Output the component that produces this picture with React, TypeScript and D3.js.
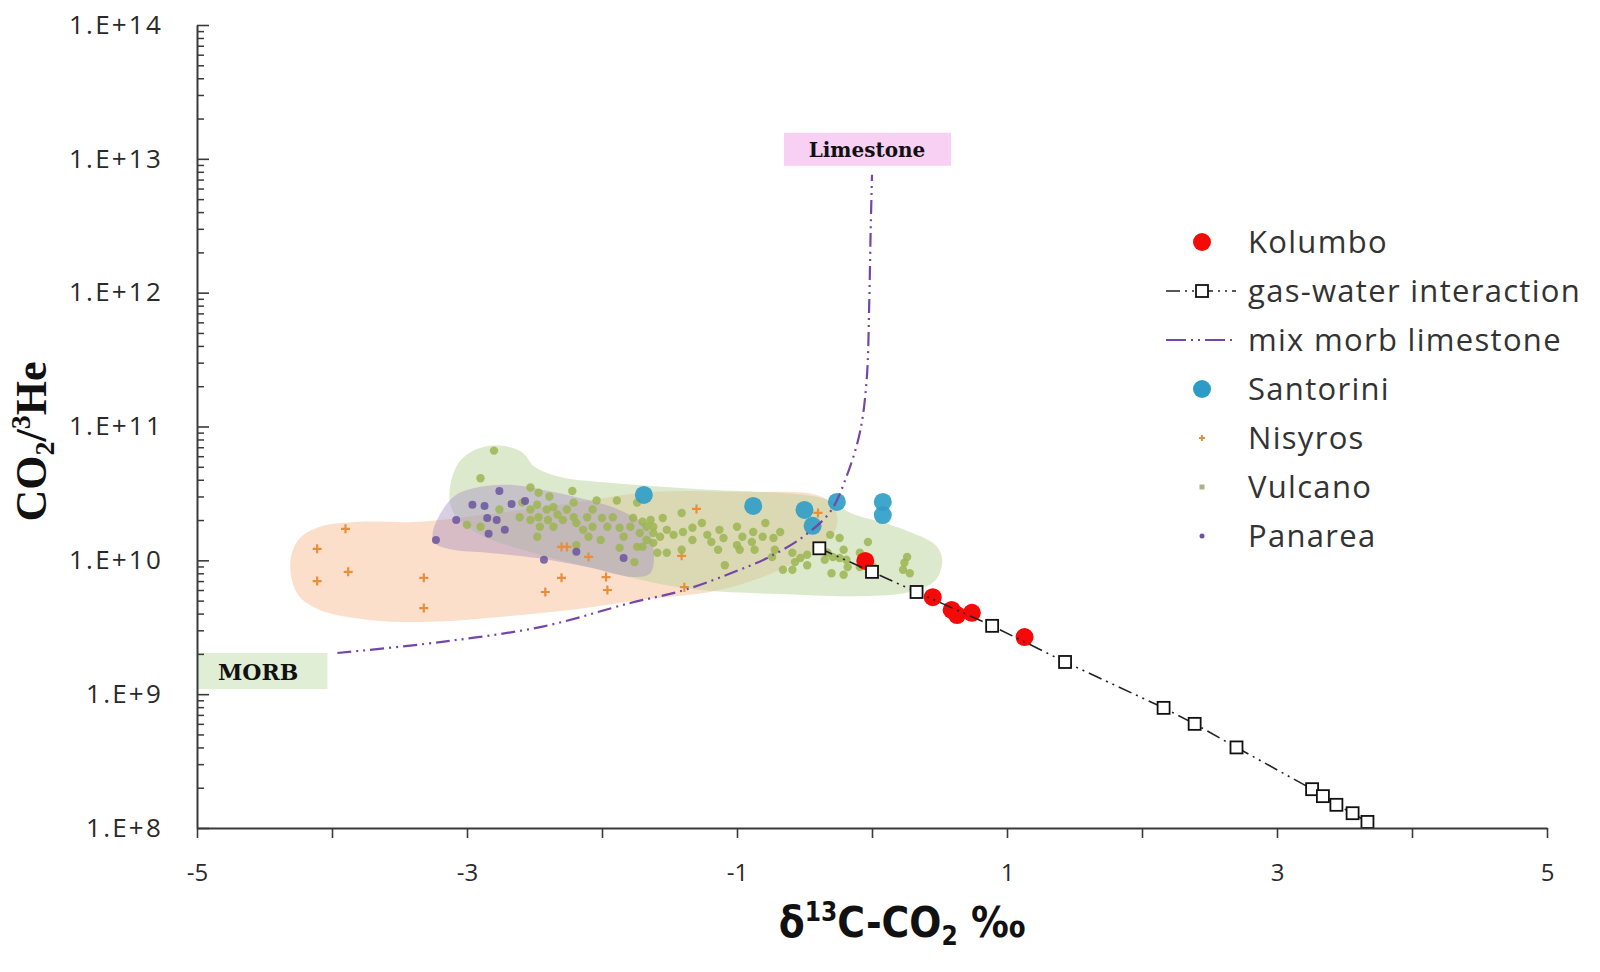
import * as d3 from 'd3'
import React from 'react'

type P = [number, number]

// delta13C (x) and CO2/3He (y)
const kolumbo: P[] = [[-0.05, 9.9e9], [0.45, 5.3e9], [0.59, 4.26e9], [0.63, 3.9e9], [0.74, 4.05e9], [1.13, 2.67e9]]

const gasWater: P[] = [
  [-0.39, 1.23e10], [0.0, 8.2e9], [0.33, 5.8e9], [0.89, 3.24e9], [1.43, 1.74e9], [2.16, 7.9e8], [2.39, 6.0e8],
  [2.70, 4.0e8], [3.26, 1.95e8], [3.34, 1.73e8], [3.44, 1.49e8], [3.56, 1.29e8], [3.67, 1.11e8],
]

const mixMorbLimestone: P[] = [
  [-3.96, 2.03e9], [-3.2, 2.45e9], [-2.44, 3.2e9], [-1.79, 4.8e9], [-1.39, 6.0e9], [-0.98, 8.5e9], [-0.76, 1.06e10],
  [-0.51, 1.5e10], [-0.31, 2.3e10], [-0.19, 4.2e10], [-0.09, 9.0e10], [-0.04, 2.2e11], [-0.02, 8.8e11],
  [-0.01, 2.9e12], [0.0, 7.6e12],
]

const santorini: P[] = [[-1.69, 3.08e10], [-0.88, 2.55e10], [-0.5, 2.38e10], [-0.44, 1.81e10], [-0.26, 2.73e10], [0.08, 2.73e10], [0.08, 2.18e10]]

const nisyros: P[] = [
  [-3.9, 1.72e10], [-4.11, 1.22e10], [-3.88, 8.2e9], [-4.11, 7.0e9], [-3.32, 7.4e9], [-3.32, 4.4e9], [-2.42, 5.8e9],
  [-2.3, 7.4e9], [-1.97, 7.5e9], [-1.96, 6.0e9], [-2.1, 1.06e10], [-2.3, 1.26e10], [-2.26, 1.26e10], [-1.3, 2.42e10],
  [-1.41, 1.08e10], [-1.39, 6.3e9], [-0.4, 2.26e10],
]

const vulcano: P[] = [
  [-2.8, 6.6e10], [-2.9, 4.1e10], [-2.53, 3.5e10], [-2.22, 3.3e10], [-2.76, 2.4e10], [-3.0, 1.84e10], [-2.9, 1.78e10],
  [-2.47, 3.2e10], [-2.39, 3.0e10], [-2.59, 2.7e10], [-2.53, 2.4e10], [-2.48, 2.6e10], [-2.61, 2.1e10], [-2.53, 2.0e10],
  [-2.47, 2.1e10], [-2.41, 2.4e10], [-2.36, 2.5e10], [-2.33, 2.2e10], [-2.4, 2.0e10], [-2.46, 1.78e10], [-2.48, 1.5e10],
  [-2.36, 1.78e10], [-2.29, 2.0e10], [-2.26, 2.4e10], [-2.21, 2.7e10], [-2.21, 2.1e10], [-2.19, 1.9e10], [-2.14, 1.69e10],
  [-2.11, 2.1e10], [-2.07, 2.4e10], [-2.04, 2.8e10], [-2.0, 2.07e10], [-2.07, 1.78e10], [-2.1, 1.5e10], [-2.01, 1.42e10],
  [-1.96, 1.78e10], [-1.92, 2.1e10], [-1.89, 2.8e10], [-1.87, 1.75e10], [-1.84, 1.5e10], [-1.87, 1.24e10], [-1.79, 1.78e10],
  [-1.77, 2.07e10], [-1.74, 2.7e10], [-1.72, 1.6e10], [-1.67, 1.78e10], [-1.62, 1.6e10], [-1.62, 1.35e10], [-1.64, 2.0e10],
  [-1.7, 1.26e10], [-1.74, 1.26e10], [-1.76, 9.7e9], [-2.19, 1.3e10], [-1.59, 1.14e10],
  [-1.41, 2.26e10], [-1.55, 2.07e10], [-1.7, 1.94e10], [-1.62, 1.78e10], [-1.52, 1.69e10], [-1.57, 1.5e10], [-1.47, 1.55e10],
  [-1.67, 1.42e10], [-1.4, 1.63e10], [-1.33, 1.75e10], [-1.26, 1.9e10], [-1.33, 1.42e10], [-1.22, 1.55e10], [-1.19, 1.37e10],
  [-1.13, 1.69e10], [-1.1, 1.47e10], [-1.14, 1.2e10], [-1.0, 1.78e10], [-1.0, 1.3e10], [-0.96, 1.5e10], [-0.88, 1.63e10],
  [-0.89, 1.37e10], [-0.79, 1.9e10], [-0.81, 1.5e10], [-0.73, 1.47e10], [-0.72, 1.2e10], [-0.74, 1.06e10], [-0.68, 1.63e10],
  [-0.87, 1.2e10], [-0.98, 1.2e10], [-1.09, 9.2e9], [-1.41, 1.2e10], [-1.52, 1.14e10], [-0.59, 1.14e10], [-0.53, 1.04e10],
  [-0.57, 9.7e9], [-0.48, 1.1e10], [-0.66, 8.5e9], [-0.59, 8.5e9], [-0.48, 9.2e9], [-0.33, 1.14e10], [-0.35, 1.01e10],
  [-0.29, 1.06e10], [-0.24, 1.47e10], [-0.21, 1.2e10], [-0.24, 1.04e10], [-0.19, 1.01e10], [-0.3, 8.0e9], [-0.21, 7.8e9],
  [-0.18, 8.9e9], [-0.03, 1.37e10], [-0.09, 1.14e10], [-0.09, 8.9e9], [-0.01, 8.2e9], [0.01, 8.9e9], [0.26, 1.06e10],
  [0.24, 9.6e9], [0.23, 8.5e9], [0.28, 8.0e9], [-0.31, 1.55e10],
]

const panarea: P[] = [
  [-2.76, 3.3e10], [-2.96, 2.6e10], [-2.87, 2.55e10], [-2.67, 2.64e10], [-2.57, 2.78e10], [-3.08, 2.0e10], [-2.85, 2.07e10],
  [-2.78, 2.0e10], [-2.72, 1.69e10], [-2.84, 1.58e10], [-3.23, 1.42e10], [-2.19, 1.16e10], [-2.43, 1.01e10], [-1.84, 1.04e10],
]

// shaded fields behind the points
const vulcanoField: P[] = [
  [-3.13, 3.1e10], [-3.07, 5.2e10], [-2.94, 6.7e10], [-2.76, 7.2e10], [-2.59, 6.4e10], [-2.5, 5.0e10], [-2.31, 4.2e10],
  [-1.94, 3.8e10], [-1.27, 3.4e10], [-0.53, 3.1e10], [-0.31, 2.8e10], [-0.16, 2.26e10], [0.06, 1.94e10], [0.28, 1.63e10],
  [0.47, 1.3e10], [0.52, 1.01e10], [0.47, 7.1e9], [0.28, 5.8e9], [-0.09, 5.4e9], [-0.68, 5.6e9], [-1.27, 6.0e9],
  [-1.64, 6.9e9], [-2.01, 8.5e9], [-2.46, 1.1e10], [-2.9, 1.55e10], [-3.09, 2.18e10],
]

const panareaField: P[] = [
  [-3.25, 1.69e10], [-3.1, 2.98e10], [-2.9, 3.54e10], [-2.66, 3.66e10], [-2.36, 3.24e10], [-2.11, 2.83e10], [-1.87, 2.38e10],
  [-1.67, 1.78e10], [-1.62, 1.26e10], [-1.64, 8.05e9], [-1.77, 7.5e9], [-2.11, 8.9e9], [-2.48, 1.04e10], [-2.85, 1.14e10],
  [-3.1, 1.2e10], [-3.24, 1.35e10],
]

const nisyrosField: P[] = [
  [-4.31, 9.3e9], [-4.25, 1.42e10], [-4.09, 1.78e10], [-3.79, 1.94e10], [-3.35, 1.94e10], [-2.9, 2.18e10], [-2.31, 2.6e10],
  [-1.64, 3.24e10], [-0.98, 3.24e10], [-0.39, 3.03e10], [-0.27, 2.38e10], [-0.27, 1.69e10], [-0.42, 1.2e10], [-0.68, 8.5e9],
  [-1.13, 6.0e9], [-1.72, 5.06e9], [-2.24, 4.26e9], [-2.76, 3.78e9], [-3.27, 3.47e9], [-3.72, 3.59e9], [-4.09, 4.26e9],
  [-4.25, 5.5e9],
]

const xTicks = [-5, -4, -3, -2, -1, 0, 1, 2, 3, 4, 5]
const xLabels = [-5, -3, -1, 1, 3, 5]
const yMajor = [1e8, 1e9, 1e10, 1e11, 1e12, 1e13, 1e14]

const legendItems = ['Kolumbo', 'gas-water interaction', 'mix morb limestone', 'Santorini', 'Nisyros', 'Vulcano', 'Panarea']

const x = d3.scaleLinear().domain([-5, 5]).range([197, 1547])
const y = d3.scaleLog().domain([1e8, 1e14]).range([828, 25])

const C = {
  kolumbo: '#f50a0a',
  santorini: '#2c9cc6',
  nisyros: '#e88f3c',
  vulcano: '#9cb552',
  panarea: '#6a559e',
  mix: '#7446a8',
  axis: '#3a3a3a',
}

const line = d3.line<P>().x(d => x(d[0])).y(d => y(d[1]))
const smooth = d3.line<P>().x(d => x(d[0])).y(d => y(d[1])).curve(d3.curveCatmullRom.alpha(0.5))
const field = d3.line<P>().x(d => x(d[0])).y(d => y(d[1])).curve(d3.curveCatmullRomClosed.alpha(0.5))

const tickFont = "'Open Sans', 'DejaVu Sans', sans-serif"
const dashGW = '14 5 2 5 2 5'
const dashMix = '14 5 2 5 2 5'

const Plus = ({ cx, cy, s, color, w = 2 }: { cx: number, cy: number, s: number, color: string, w?: number }) => (
  <path d={`M${cx - s},${cy}H${cx + s}M${cx},${cy - s}V${cy + s}`} stroke={color} strokeWidth={w} />
)

const Square = ({ cx, cy }: { cx: number, cy: number }) => (
  <rect x={cx - 6} y={cy - 6} width={12} height={12} fill='#fff' stroke='#111' strokeWidth={1.8} />
)

export default function App() {
  const xAxisRef = React.useRef<SVGGElement>(null)
  const yMajorRef = React.useRef<SVGGElement>(null)
  const yMinorRef = React.useRef<SVGGElement>(null)

  React.useEffect(() => {
    const gx = d3.select(xAxisRef.current!)
    gx.call(d3.axisBottom(x).tickValues(xTicks).tickSize(10).tickSizeOuter(0).tickPadding(26)
      .tickFormat(d => xLabels.includes(+d) ? String(d) : ''))
    gx.select('.domain').attr('stroke', C.axis).attr('stroke-width', 2)
    gx.selectAll('.tick line').attr('stroke', C.axis).attr('stroke-width', 1.6)
    gx.selectAll('.tick text').attr('font-family', tickFont).attr('font-size', 24).attr('fill', '#2a2a2a')

    const minor = y.ticks().filter(d => !yMajor.includes(d))
    const gm = d3.select(yMinorRef.current!)
    gm.call(d3.axisLeft(y).tickValues(minor).tickSize(-7).tickSizeOuter(0).tickFormat(() => ''))
    gm.select('.domain').remove()
    gm.selectAll('.tick line').attr('stroke', C.axis).attr('stroke-width', 1.5)

    const gy = d3.select(yMajorRef.current!)
    gy.call(d3.axisLeft(y).tickValues(yMajor).tickSize(-12).tickSizeOuter(0).tickPadding(34)
      .tickFormat(d => `1.E+${Math.round(Math.log10(+d))}`))
    gy.select('.domain').attr('stroke', C.axis).attr('stroke-width', 2)
    gy.selectAll('.tick line').attr('stroke', C.axis).attr('stroke-width', 1.6)
    gy.selectAll('.tick text').attr('font-family', tickFont).attr('font-size', 26)
      .attr('letter-spacing', 2.2).attr('fill', '#2a2a2a')
  }, [])

  const morb = mixMorbLimestone[0]
  const lime = mixMorbLimestone[mixMorbLimestone.length - 1]
  const legX = 1202, legY = 242, legStep = 49

  return (
    <svg width={1600} height={972} style={{ position: 'absolute', left: 0, top: 0, background: '#fff' }}>
      <path d={field(nisyrosField)!} fill='#f7b98a' fillOpacity={0.45} />
      <path d={field(vulcanoField)!} fill='#bcd49c' fillOpacity={0.5} />
      <path d={field(panareaField)!} fill='#a48cc0' fillOpacity={0.42} />

      {/* end member labels */}
      <rect x={x(-5)} y={y(morb[1])} width={x(morb[0]) - x(-5) - 10} height={36} fill='#e1eed6' />
      <text x={x(-5) + 21} y={y(morb[1]) + 27} fontFamily="'DejaVu Serif', serif" fontWeight='bold' fontSize={22} fill='#111'>MORB</text>
      <rect x={x(lime[0]) - 88} y={y(lime[1]) - 42} width={167} height={33} fill='#f7d0f4' />
      <text x={x(lime[0]) - 5} y={y(lime[1]) - 18} textAnchor='middle' fontFamily="'DejaVu Serif', serif" fontWeight='bold' fontSize={20} fill='#111'>Limestone</text>

      {nisyros.map((d, i) => <Plus key={i} cx={x(d[0])} cy={y(d[1])} s={4.5} color={C.nisyros} w={2.2} />)}
      {vulcano.map((d, i) => <circle key={i} cx={x(d[0])} cy={y(d[1])} r={4.2} fill={C.vulcano} fillOpacity={0.85} />)}
      {panarea.map((d, i) => <circle key={i} cx={x(d[0])} cy={y(d[1])} r={4} fill={C.panarea} fillOpacity={0.85} />)}
      {santorini.map((d, i) => <circle key={i} cx={x(d[0])} cy={y(d[1])} r={9} fill={C.santorini} fillOpacity={0.9} />)}
      {kolumbo.map((d, i) => <circle key={i} cx={x(d[0])} cy={y(d[1])} r={9} fill={C.kolumbo} />)}

      <path d={smooth(mixMorbLimestone)!} fill='none' stroke={C.mix} strokeWidth={2.2} strokeDasharray={dashMix} />
      <path d={line(gasWater)!} fill='none' stroke='#222' strokeWidth={1.6} strokeDasharray={dashGW} />
      {gasWater.map((d, i) => <Square key={i} cx={x(d[0])} cy={y(d[1])} />)}

      <g ref={yMinorRef} transform={`translate(${x(-5)},0)`} />
      <g ref={yMajorRef} transform={`translate(${x(-5)},0)`} />
      <g ref={xAxisRef} transform={`translate(0,${y(1e8)})`} />

      {/* axis titles */}
      <text transform={`translate(46,${(y(1e11) + y(1e10)) / 2 - 52}) rotate(-90)`} textAnchor='middle'
        fontFamily="'Liberation Serif', 'DejaVu Serif', serif" fontWeight='bold' fontSize={44} fill='#111'>
        CO<tspan fontSize={28} dy={8}>2</tspan><tspan dy={-8}>/</tspan><tspan fontSize={28} dy={-16}>3</tspan><tspan dy={16}>He</tspan>
      </text>
      <text x={(x(-5) + x(5)) / 2 + 30} y={937} textAnchor='middle'
        fontFamily="'Liberation Sans Narrow', 'DejaVu Sans Condensed', 'Liberation Sans', sans-serif" fontWeight='bold' fontSize={42} fill='#111'>
        δ<tspan fontSize={26} dy={-16}>13</tspan><tspan dy={16}>C-CO</tspan><tspan fontSize={26} dy={8}>2</tspan><tspan dy={-8}> ‰</tspan>
      </text>

      {/* legend */}
      {legendItems.map((name, i) => {
        const cy = legY + i * legStep
        let marker: React.ReactNode = null
        if (i === 0) marker = <circle cx={legX} cy={cy} r={9} fill={C.kolumbo} />
        if (i === 1) marker = <g>
          <line x1={legX - 36} x2={legX + 34} y1={cy} y2={cy} stroke='#222' strokeWidth={1.6} strokeDasharray='14 5 2 5 2 5' />
          <Square cx={legX} cy={cy} />
        </g>
        if (i === 2) marker = <line x1={legX - 36} x2={legX + 30} y1={cy} y2={cy} stroke={C.mix} strokeWidth={2} strokeDasharray='20 5 2 5 2 5' />
        if (i === 3) marker = <circle cx={legX} cy={cy} r={9} fill={C.santorini} />
        if (i === 4) marker = <Plus cx={legX} cy={cy} s={3} color={C.nisyros} />
        if (i === 5) marker = <rect x={legX - 2.5} y={cy - 2.5} width={5} height={5} fill='#a9b48a' />
        if (i === 6) marker = <circle cx={legX} cy={cy} r={2.5} fill={C.panarea} />
        return (
          <g key={name}>
            {marker}
            <text x={legX + 46} y={cy} dy='0.35em' fontFamily={tickFont} fontSize={31} letterSpacing={1.3} fill='#333'>{name}</text>
          </g>
        )
      })}
    </svg>
  )
}
